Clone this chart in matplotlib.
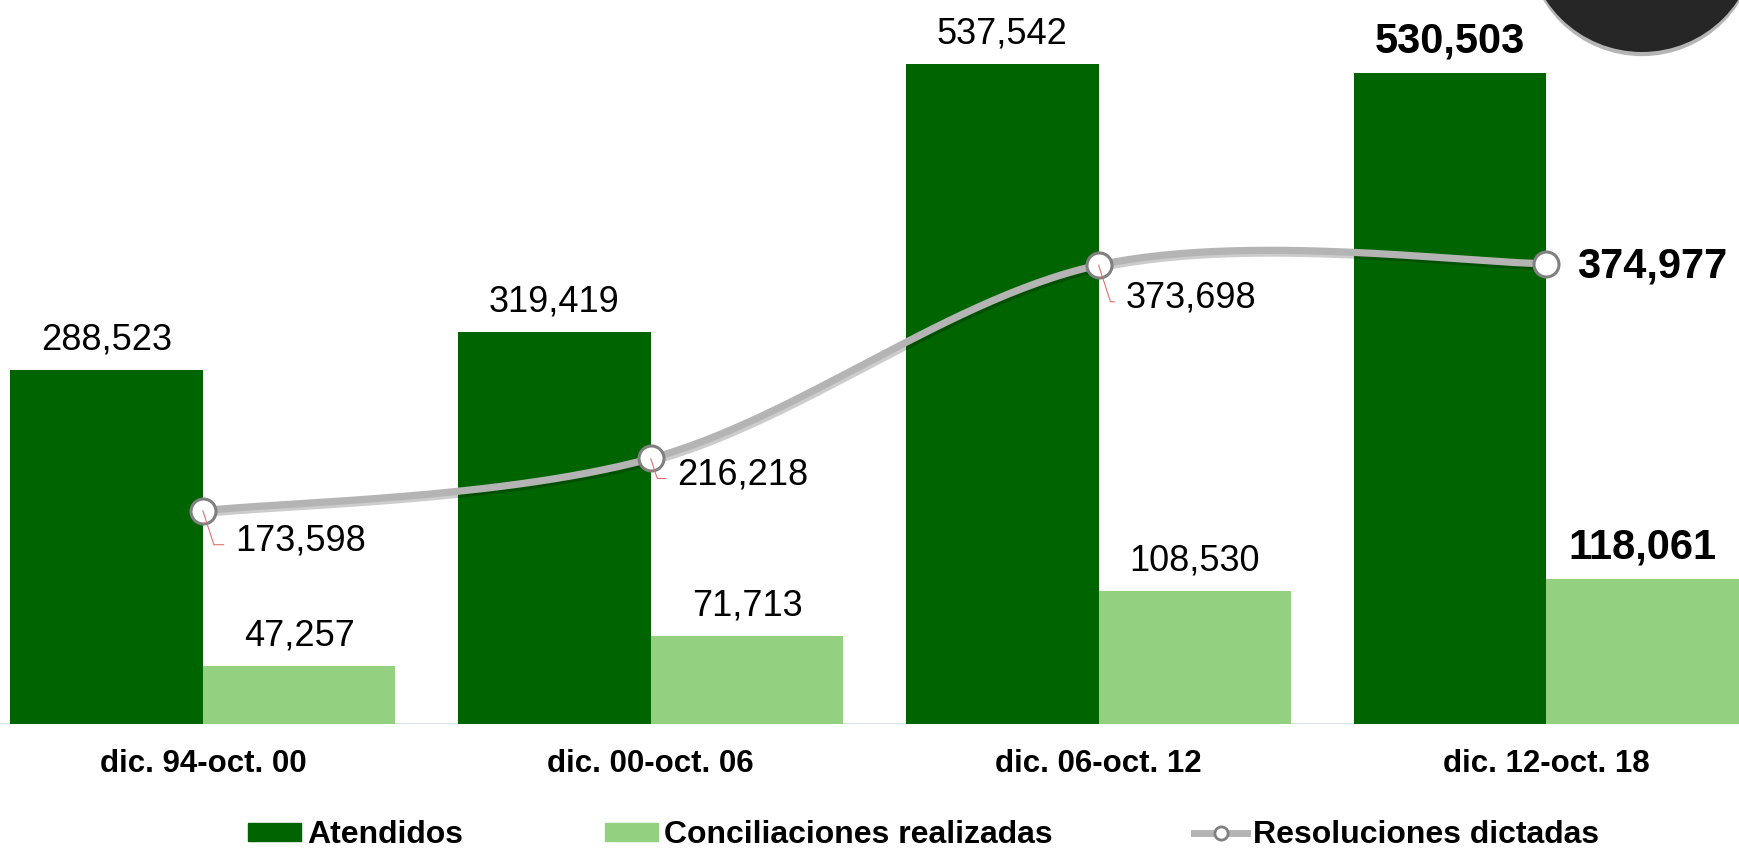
import numpy as np
import matplotlib.pyplot as plt
from matplotlib.patches import Patch, Circle
from matplotlib.lines import Line2D
import matplotlib.patheffects as pe

plt.rcParams['font.family'] = ['Liberation Sans', 'DejaVu Sans']

# datos
periodos = ['dic. 94-oct. 00', 'dic. 00-oct. 06', 'dic. 06-oct. 12', 'dic. 12-oct. 18']
atendidos = [288523, 319419, 537542, 530503]
conciliaciones = [47257, 71713, 108530, 118061]
resoluciones = [173598, 216218, 373698, 374977]

verde_osc = '#006400'
verde_cla = '#93D07F'
gris = '#B4B4B4'

fig = plt.figure(figsize=(17.39, 8.5), dpi=100)
ax = fig.add_axes([0, 126 / 850, 1, 724 / 850])

x = np.arange(len(periodos))
w = 0.43
b1 = ax.bar(x - w / 2, atendidos, w, color=verde_osc, zorder=2)
b2 = ax.bar(x + w / 2, conciliaciones, w, color=verde_cla, zorder=2)

# etiquetas de barras (la ultima en negrita)
for bars in (b1, b2):
    for i, r in enumerate(bars):
        v = r.get_height()
        bold = i == len(bars) - 1
        ax.annotate(f'{v:,.0f}', (r.get_x() + r.get_width() / 2, v),
                    xytext=(0, 8 if bold else 9), textcoords='offset points',
                    ha='center', va='bottom',
                    fontsize=30 if bold else 26,
                    fontweight='bold' if bold else 'normal', zorder=6)

# linea suavizada (tipo Excel)
px = x.astype(float)
py = np.array(resoluciones, dtype=float)
pts = np.column_stack([px, py])
ext = np.vstack([pts[0], pts, pts[-1]])
cx, cy = [], []
t = np.linspace(0, 1, 60)
for i in range(len(pts) - 1):
    p0, p1, p2, p3 = ext[i], ext[i + 1], ext[i + 2], ext[i + 3]
    c1 = p1 + (p2 - p0) / 6
    c2 = p2 - (p3 - p1) / 6
    seg = ((1 - t) ** 3)[:, None] * p1 + (3 * (1 - t) ** 2 * t)[:, None] * c1 \
        + (3 * (1 - t) * t ** 2)[:, None] * c2 + (t ** 3)[:, None] * p2
    cx.extend(seg[:, 0]); cy.extend(seg[:, 1])
ax.plot(cx, cy, color=gris, lw=5.2, solid_capstyle='round', zorder=3,
        path_effects=[pe.SimpleLineShadow(offset=(1.5, -2), alpha=0.2), pe.Normal()])
ax.plot(px, py, ls='none', marker='o', ms=18, mfc='white', mec='#808080', mew=2.2, zorder=4)

# etiquetas de la linea
desp = [(23, -19), (19, -9), (19.5, -21), (22, 1)]
for i, v in enumerate(resoluciones):
    if i == len(resoluciones) - 1:
        ax.annotate(f'{v:,.0f}', (px[i], v), xytext=desp[i], textcoords='offset points',
                    ha='left', va='center_baseline', fontsize=30, fontweight='bold', zorder=6)
    else:
        ax.annotate(f'{v:,.0f}', (px[i], v), xytext=desp[i], textcoords='offset points',
                    ha='left', va='center_baseline', fontsize=26, zorder=6,
                    arrowprops=dict(arrowstyle='-', color='#E07070', lw=0.8,
                                    relpos=(0, 0.4), shrinkA=6, shrinkB=0,
                                    connectionstyle='angle,angleA=0,angleB=108'))

ax.set_xlim(-0.453, 3.43)
ax.set_ylim(0, 589600)
ax.axhline(0, color='#D5DEE8', lw=2, zorder=1)
for s in ax.spines.values():
    s.set_visible(False)
ax.set_yticks([])
ax.set_xticks(x)
ax.set_xticklabels(periodos, fontsize=22.5, fontweight='bold')
ax.tick_params(axis='x', length=0, pad=18)

# circulo decorativo arriba a la derecha
circ = Circle((16.42, 8.5 + 0.63), 1.15, transform=fig.dpi_scale_trans,
              facecolor='#262626', edgecolor='none', zorder=10,
              path_effects=[pe.SimplePatchShadow(offset=(0, -3), alpha=0.3), pe.Normal()])
fig.add_artist(circ)

handles = [Patch(color=verde_osc), Patch(color=verde_cla),
           Line2D([], [], color=gris, lw=5, marker='o', ms=9.5, mfc='white', mec='#808080', mew=2)]
fig.legend(handles, ['Atendidos', 'Conciliaciones realizadas', 'Resoluciones dictadas'],
           loc='center left', bbox_to_anchor=(248 / 1739, 0.0176), ncol=3, frameon=False,
           prop=dict(size=23, weight='bold'), handlelength=1.65, handleheight=0.5,
           handletextpad=0.19, columnspacing=4.45, borderpad=0, borderaxespad=0)

fig.savefig('out.png', dpi=100)
